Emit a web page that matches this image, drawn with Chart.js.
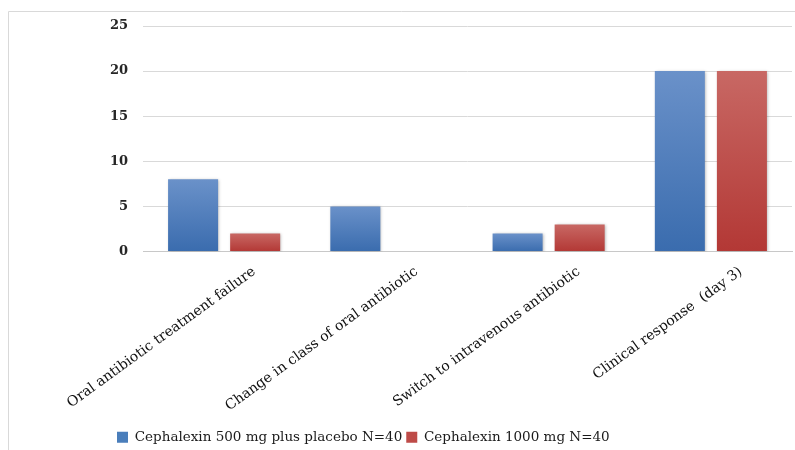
<!DOCTYPE html>
<html>
<head>
<meta charset="utf-8">
<script src="https://cdn.jsdelivr.net/npm/chart.js@4/dist/chart.umd.min.js"></script>
<style>
  html, body { margin: 0; padding: 0; background: #ffffff; }
  #wrap { width: 795px; height: 450px; position: relative; }
</style>
</head>
<body>
<div id="wrap"><canvas id="c" width="795" height="450"></canvas></div>
<script>
const categories = [
  'Oral antibiotic treatment failure',
  'Change in class of oral antibiotic',
  'Switch to intravenous antibiotic',
  'Clinical response  (day 3)'
];
const seriesNames = ['Cephalexin 500 mg plus placebo N=40', 'Cephalexin 1000 mg N=40'];
const cephalexin500 = [8, 5, 2, 20];
const cephalexin1000 = [2, 0, 3, 20];
const yTicks = [0, 5, 10, 15, 20, 25];

const SERIF = '"DejaVu Serif", "Liberation Serif", serif';

// vertical gradient per bar: lighter at the top, deeper at the base
function barFill(top, bottom, solid) {
  return function (ctx) {
    const chart = ctx.chart;
    if (!chart.chartArea || ctx.type !== 'data') return solid;
    const y = chart.scales.y;
    const v = ctx.raw;
    const yTop = y.getPixelForValue(v);
    const yBase = y.getPixelForValue(0);
    if (!isFinite(yTop) || yBase - yTop < 1) return solid;
    const g = chart.ctx.createLinearGradient(0, yTop, 0, yBase);
    g.addColorStop(0, top);
    g.addColorStop(1, bottom);
    return g;
  };
}

// soft drop shadow under the bars
const barShadow = {
  id: 'barShadow',
  beforeDatasetDraw(chart) {
    const c = chart.ctx;
    c.save();
    c.shadowColor = 'rgba(0,0,0,0.30)';
    c.shadowBlur = 3;
    c.shadowOffsetX = 1;
    c.shadowOffsetY = 1;
  },
  afterDatasetDraw(chart) {
    chart.ctx.restore();
  }
};

// thin frame along the top and left edges
const frame = {
  id: 'frame',
  beforeDraw(chart) {
    const c = chart.ctx;
    c.save();
    c.strokeStyle = '#d9d9d9';
    c.lineWidth = 1;
    c.beginPath();
    c.moveTo(8.5, 450);
    c.lineTo(8.5, 11.5);
    c.lineTo(795, 11.5);
    c.stroke();
    c.restore();
  }
};

// legend row starts a little left of the plot, under the y axis labels
const legendShift = {
  id: 'legendShift',
  afterLayout(chart) {
    const lg = chart.legend;
    if (!lg) return;
    lg.left = 113;
    lg.top += 4;
    lg.bottom += 4;
  }
};

new Chart(document.getElementById('c'), {
  type: 'bar',
  data: {
    labels: categories,
    datasets: [
      {
        label: seriesNames[0],
        data: cephalexin500,
        backgroundColor: barFill('#6a91c9', '#3a6cae', '#4a7ebb'),
        borderWidth: 0,
        categoryPercentage: 0.765,
        barPercentage: 0.806
      },
      {
        label: seriesNames[1],
        data: cephalexin1000,
        backgroundColor: barFill('#c86864', '#b33835', '#be4b48'),
        borderWidth: 0,
        categoryPercentage: 0.765,
        barPercentage: 0.806
      }
    ]
  },
  options: {
    responsive: false,
    animation: false,
    devicePixelRatio: 1,
    layout: { padding: { top: 26, right: 3, bottom: 0, left: 0 } },
    plugins: {
      legend: {
        position: 'bottom',
        align: 'start',
        labels: {
          font: { family: SERIF, size: 13.5 },
          color: '#1a1a1a',
          boxWidth: 11,
          boxHeight: 11,
          padding: 4,
          generateLabels(chart) {
            const solid = ['#4a7ebb', '#be4b48'];
            return chart.data.datasets.map((ds, i) => ({
              text: ds.label,
              fillStyle: solid[i],
              strokeStyle: solid[i],
              lineWidth: 0,
              hidden: !chart.isDatasetVisible(i),
              datasetIndex: i,
              fontColor: '#1a1a1a'
            }));
          }
        }
      },
      tooltip: { enabled: false }
    },
    scales: {
      x: {
        grid: { display: false, drawTicks: false },
        border: { display: true, color: '#c8c8c8', width: 1 },
        ticks: {
          font: { family: SERIF, size: 14 },
          color: '#111111',
          maxRotation: 36,
          minRotation: 36,
          autoSkip: false,
          labelOffset: 30,
          padding: 12
        },
        afterFit(scale) { scale.height = 171; }
      },
      y: {
        min: 0,
        max: 25,
        afterBuildTicks(scale) { scale.ticks = yTicks.map(v => ({ value: v })); },
        grid: { color: '#d9d9d9', drawTicks: false },
        border: { display: false },
        ticks: {
          font: { family: SERIF, size: 13, weight: 'bold' },
          color: '#262626',
          padding: 15
        },
        afterFit(scale) { scale.width = 143; }
      }
    }
  },
  plugins: [frame, barShadow, legendShift]
});
</script>
</body>
</html>
